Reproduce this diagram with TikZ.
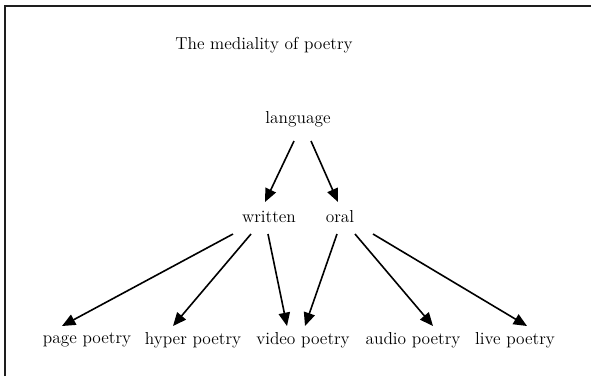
\documentclass[tikz,border=0pt]{standalone}
\usepackage{tikz}
\usetikzlibrary{arrows.meta,calc,positioning}
\usepackage{xcolor}
\definecolor{frameblack}{RGB}{30,30,30}
\tikzstyle{arrow} = [line width=1.2pt,-{Triangle[length=10pt,width=8.5pt]},color=black]
\tikzstyle{word} = [inner sep=0pt,font=\fontsize{13}{15}\selectfont]

\begin{document}
\begin{tikzpicture}[x=0.75pt, y=-0.75pt]
\useasboundingbox (0,0) rectangle (591,376);
% Frame (top and left edges only)
\draw[frameblack, line width=1.6pt] (5,376) -- (5,6) -- (591,6);

\node[word] (title) at (264,45) {The mediality of poetry};

% Media levels
\node[word] (language) at (298,119) {language};
\node[word] (written) at (269,217) {written};
\node[word] (oral) at (340,217) {oral};

\node[word] (page) at (87,340) {page poetry};
\node[word] (hyper) at (193,340) {hyper poetry};
\node[word] (video) at (303,340) {video poetry};
\node[word] (audio) at (413,340) {audio poetry};
\node[word] (live) at (515,340) {live poetry};

% Arrows from language
\draw[arrow] ($(language)+(-4,22)$) -- ($(written)+(-4,-15)$);
\draw[arrow] ($(language)+(13,22)$) -- ($(oral)+(-2,-15)$);

% Arrows from written and oral
\draw[arrow] ($(written)+(-36,17)$) -- ($(page)+(-25,-14)$);
\draw[arrow] ($(written)+(-18,17)$) -- ($(hyper)+(-20,-14)$);
\draw[arrow] ($(written)+(-1,17)$) -- ($(video)+(-16,-14)$);
\draw[arrow] ($(oral)+(-3,17)$) -- ($(video)+(2,-14)$);
\draw[arrow] ($(oral)+(15,17)$) -- ($(audio)+(20,-14)$);
\draw[arrow] ($(oral)+(33,17)$) -- ($(live)+(12,-14)$);
\end{tikzpicture}
\end{document}
